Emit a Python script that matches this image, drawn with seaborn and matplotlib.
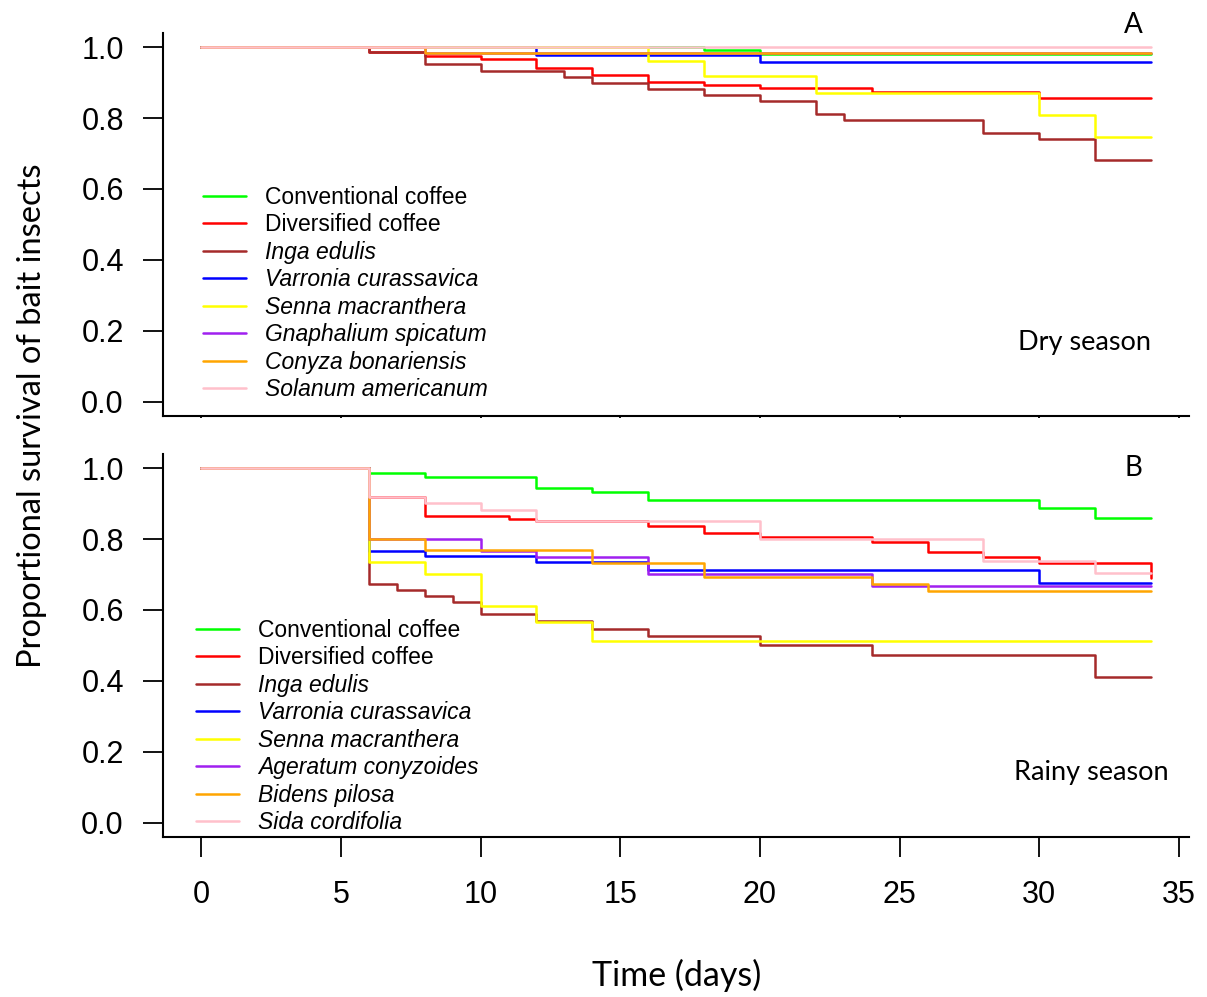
import numpy as np
import pandas as pd
import matplotlib
matplotlib.use("Agg")
import matplotlib.pyplot as plt
import seaborn as sns

# ---------------- data ----------------
colors = ["#00FF00", "#FF0000", "#A52A2A", "#0000FF", "#FFFF00", "#A020F0", "#FFA500", "#FFC0CB"]

dry_labels = ["Conventional coffee", "Diversified coffee", "Inga edulis", "Varronia curassavica",
              "Senna macranthera", "Gnaphalium spicatum", "Conyza bonariensis", "Solanum americanum"]
rainy_labels = ["Conventional coffee", "Diversified coffee", "Inga edulis", "Varronia curassavica",
                "Senna macranthera", "Ageratum conyzoides", "Bidens pilosa", "Sida cordifolia"]

# Dry season (panel A)
dry_conv_t = [0, 18, 20, 34]
dry_conv_s = [1.0, 0.992, 0.980, 0.980]
dry_div_t = [0, 6, 8, 10, 12, 14, 16, 18, 20, 24, 30, 34]
dry_div_s = [1.0, 0.987, 0.974, 0.966, 0.940, 0.921, 0.902, 0.893, 0.884, 0.874, 0.857, 0.857]
dry_inga_t = [0, 6, 8, 10, 13, 14, 16, 18, 20, 22, 23, 28, 30, 32, 34]
dry_inga_s = [1.0, 0.987, 0.952, 0.933, 0.916, 0.900, 0.882, 0.865, 0.848, 0.812, 0.794, 0.758, 0.741, 0.683, 0.683]
dry_varr_t = [0, 12, 20, 34]
dry_varr_s = [1.0, 0.979, 0.958, 0.958]
dry_senna_t = [0, 16, 18, 22, 30, 32, 34]
dry_senna_s = [1.0, 0.961, 0.919, 0.872, 0.809, 0.747, 0.747]
dry_gnaph_t = [0, 8, 34]
dry_gnaph_s = [1.0, 0.983, 0.983]
dry_conyza_t = [0, 8, 34]
dry_conyza_s = [1.0, 0.983, 0.983]
dry_solanum_t = [0, 34]
dry_solanum_s = [1.0, 1.0]

# Rainy season (panel B)
rainy_conv_t = [0, 6, 8, 12, 14, 16, 30, 32, 34]
rainy_conv_s = [1.0, 0.985, 0.976, 0.943, 0.932, 0.909, 0.888, 0.859, 0.859]
rainy_div_t = [0, 6, 8, 11, 12, 16, 18, 20, 24, 26, 28, 30, 34]
rainy_div_s = [1.0, 0.918, 0.866, 0.857, 0.850, 0.838, 0.817, 0.806, 0.791, 0.763, 0.748, 0.732, 0.689]
rainy_inga_t = [0, 6, 7, 8, 9, 10, 12, 14, 16, 20, 24, 32, 34]
rainy_inga_s = [1.0, 0.673, 0.656, 0.640, 0.623, 0.588, 0.569, 0.547, 0.526, 0.502, 0.474, 0.412, 0.412]
rainy_varr_t = [0, 6, 8, 12, 16, 30, 34]
rainy_varr_s = [1.0, 0.767, 0.751, 0.734, 0.713, 0.676, 0.676]
rainy_senna_t = [0, 6, 8, 10, 12, 14, 34]
rainy_senna_s = [1.0, 0.735, 0.701, 0.611, 0.566, 0.513, 0.513]
rainy_ager_t = [0, 6, 10, 12, 16, 24, 34]
rainy_ager_s = [1.0, 0.800, 0.767, 0.748, 0.701, 0.667, 0.667]
rainy_bidens_t = [0, 6, 8, 14, 18, 24, 26, 34]
rainy_bidens_s = [1.0, 0.800, 0.768, 0.732, 0.692, 0.673, 0.653, 0.653]
rainy_sida_t = [0, 6, 8, 10, 12, 20, 28, 32, 34]
rainy_sida_s = [1.0, 0.918, 0.902, 0.883, 0.850, 0.800, 0.738, 0.705, 0.705]

x_ticks = [0, 5, 10, 15, 20, 25, 30, 35]
y_ticks = [0.0, 0.2, 0.4, 0.6, 0.8, 1.0]
y_ticklabels = ["0.0", "0.2", "0.4", "0.6", "0.8", "1.0"]

dry_series = [(dry_conv_t, dry_conv_s), (dry_div_t, dry_div_s), (dry_inga_t, dry_inga_s),
              (dry_varr_t, dry_varr_s), (dry_senna_t, dry_senna_s), (dry_gnaph_t, dry_gnaph_s),
              (dry_conyza_t, dry_conyza_s), (dry_solanum_t, dry_solanum_s)]
rainy_series = [(rainy_conv_t, rainy_conv_s), (rainy_div_t, rainy_div_s), (rainy_inga_t, rainy_inga_s),
                (rainy_varr_t, rainy_varr_s), (rainy_senna_t, rainy_senna_s), (rainy_ager_t, rainy_ager_s),
                (rainy_bidens_t, rainy_bidens_s), (rainy_sida_t, rainy_sida_s)]


def to_df(series, labels):
    rows = []
    for (t, s), lab in zip(series, labels):
        for ti, si in zip(t, s):
            rows.append({"day": ti, "surv": si, "group": lab})
    return pd.DataFrame(rows)


sns.set_style("ticks")
plt.rcParams["font.family"] = ["Liberation Sans", "DejaVu Sans"]
plt.rcParams["text.color"] = "black"
plt.rcParams["axes.labelcolor"] = "black"
plt.rcParams["xtick.color"] = "black"
plt.rcParams["ytick.color"] = "black"

W, H = 1207, 997
fig = plt.figure(figsize=(W / 100, H / 100), dpi=100)

LABEL_FONT = "Lato"


def px(x, y):
    return x / W, 1 - y / H


def setup(ax, show_xlabels):
    ax.set_xlim(-1.36, 35.36)
    ax.set_ylim(-0.04, 1.04)
    for s in ["top", "right"]:
        ax.spines[s].set_visible(False)
    for s in ["left", "bottom"]:
        ax.spines[s].set_linewidth(1.5)
        ax.spines[s].set_color("black")
    ax.set_yticks(y_ticks)
    ax.set_yticklabels(y_ticklabels)
    ax.set_xticks(x_ticks)
    ax.tick_params(axis="y", direction="out", length=14.4, width=1.3, pad=14, labelsize=22,
                   colors="black", labelcolor="black")
    if show_xlabels:
        ax.tick_params(axis="x", direction="out", length=14.4, width=1.3, pad=17, labelsize=22,
                       colors="black", labelcolor="black")
    else:
        ax.tick_params(axis="x", direction="out", length=1.5, width=1.3, labelbottom=False)
    ax.set_xlabel("")
    ax.set_ylabel("")
    ax.grid(False)


def draw_panel(ax, series, labels, legend_xy):
    df = to_df(series, labels)
    sns.lineplot(data=df, x="day", y="surv", hue="group", hue_order=labels, palette=colors,
                 drawstyle="steps-post", estimator=None, linewidth=1.8, legend=False, ax=ax)
    handles = ax.get_lines()[:len(labels)]
    leg = ax.legend(handles=handles, labels=labels, loc="upper left",
                    bbox_to_anchor=px(*legend_xy), bbox_transform=fig.transFigure,
                    frameon=False, fontsize=16.5, borderpad=0, borderaxespad=0,
                    handlelength=1.88, handletextpad=0.83, labelspacing=0.195)
    for i, txt in enumerate(leg.get_texts()):
        txt.set_color("black")
        if i >= 2:
            txt.set_style("italic")
    return leg


ax1 = fig.add_axes([163.3 / W, 1 - 415.7 / H, (1189 - 163.3) / W, 382.7 / H])
ax2 = fig.add_axes([163.3 / W, 1 - 836.7 / H, (1189 - 163.3) / W, 382.7 / H])

draw_panel(ax1, dry_series, dry_labels, (203, 186))
draw_panel(ax2, rainy_series, rainy_labels, (196, 619))
setup(ax1, False)
setup(ax2, True)

fig.text(*px(1133, 25), "A", ha="center", va="center", fontsize=20, family=LABEL_FONT)
fig.text(*px(1133, 468), "B", ha="center", va="center", fontsize=20, family=LABEL_FONT)
fig.text(*px(1085, 342), "Dry season", ha="center", va="center", fontsize=19.5, family=LABEL_FONT)
fig.text(*px(1091, 772), "Rainy season", ha="center", va="center", fontsize=19.5, family=LABEL_FONT)
fig.text(*px(677, 975), "Time (days)", ha="center", va="center", fontsize=24.5, family=LABEL_FONT)
fig.text(*px(32, 416), "Proportional survival of bait insects", ha="center", va="center",
         rotation=90, fontsize=23.5, family=LABEL_FONT)

fig.savefig("out.png", dpi=100)
